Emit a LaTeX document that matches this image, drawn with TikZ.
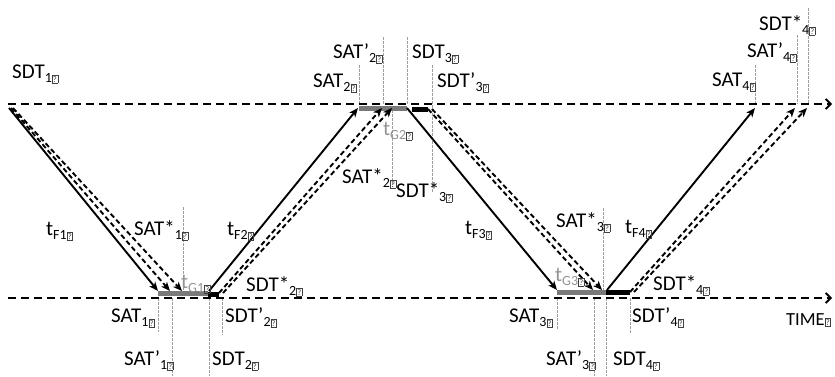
\documentclass[tikz,border=0pt]{standalone}
\usepackage{fontspec}
\setmainfont{Carlito}
\usetikzlibrary{arrows.meta}
% small boxed question mark standing for a missing glyph
\newcommand\qbox{{\fboxsep=0.6pt\fboxrule=0.5pt\color{black!75}\fbox{\fontsize{8.5}{8.5}\selectfont ?}}}
% lowered index followed by the missing-glyph box
\newcommand\idx[1]{\raisebox{-4pt}{\fontsize{14}{14}\selectfont #1\qbox}}
\begin{document}
\begin{tikzpicture}[x=1pt,y=-1pt,
  axis/.style={line width=2.4pt, dash pattern=on 8pt off 5pt,
    -{Straight Barb[length=5pt,width=10pt,line width=1.8pt]}},
  guide/.style={draw=gray!75, line width=0.7pt, dash pattern=on 2.5pt off 1.5pt},
  gate/.style={draw=gray!95!black, line width=5pt},
  hold/.style={draw=black, line width=5pt},
  flight/.style={line width=1.9pt, -{Stealth[length=9pt,width=7.5pt,inset=2.5pt]}},
  flightalt/.style={flight, dash pattern=on 5pt off 3pt},
  lab/.style={anchor=base west, inner sep=0pt, font=\fontsize{21}{25}\selectfont},
  glab/.style={lab, text=gray!85}]
\useasboundingbox (0,0) rectangle (835,376);

% vertical time markers
\draw[guide] (183,207) -- (183,290);
\draw[guide] (158,298) -- (158,332);
\draw[guide] (172,298) -- (172,376);
\draw[guide] (209,298) -- (209,376);
\draw[guide] (222,298) -- (222,335);
\draw[guide] (359,65) -- (359,104);
\draw[guide] (383,37) -- (383,104);
\draw[guide] (407,37) -- (407,104);
\draw[guide] (432,65) -- (432,192);
\draw[guide] (392,110) -- (392,187);
\draw[guide] (557,298) -- (557,330);
\draw[guide] (594,298) -- (594,376);
\draw[guide] (606,298) -- (606,376);
\draw[guide] (603,208) -- (603,292);
\draw[guide] (630,298) -- (630,333);
\draw[guide] (755,65) -- (755,104);
\draw[guide] (797,35) -- (797,104);
\draw[guide] (808,8) -- (808,104);

% the two time axes
\coordinate (top0) at (8,104);
\coordinate (top1) at (832,104);
\coordinate (bot0) at (8,298);
\coordinate (bot1) at (832,298);
\draw[axis] (top0) -- (top1);
\draw[axis] (bot0) -- (bot1);

% ground times (grey) and extra holding (black)
\draw[gate] (158,293.5) -- (208,293.5);
\draw[hold] (208,294) -- (219,294);
\draw[gate] (359,108.5) -- (407,108.5);
\draw[hold] (412,109) -- (428,109);
\draw[gate] (557,292.5) -- (606,292.5);
\draw[hold] (606,292.5) -- (630,292.5);

% departure and arrival points of each flight
\coordinate (d1) at (9,108);    \coordinate (a1) at (158,291);
\coordinate (d1p) at (11,108);  \coordinate (a1p) at (170,291);
\coordinate (d1s) at (13,108);  \coordinate (a1s) at (182,291);
\coordinate (d2) at (209,291);  \coordinate (a2) at (358,108);
\coordinate (d2p) at (219,293); \coordinate (a2p) at (382,108);
\coordinate (d2s) at (223,293); \coordinate (a2s) at (392,108);
\coordinate (d3) at (407,108);  \coordinate (a3) at (557,290);
\coordinate (d3p) at (428,109); \coordinate (a3p) at (593,290);
\coordinate (d3s) at (432,109); \coordinate (a3s) at (602,290);
\coordinate (d4) at (607,290);  \coordinate (a4) at (755,108);
\coordinate (d4p) at (630,292); \coordinate (a4p) at (795,108);
\coordinate (d4s) at (634,292); \coordinate (a4s) at (807,108);

\draw[flight] (d1) -- (a1);
\draw[flightalt] (d1p) -- (a1p);
\draw[flightalt] (d1s) -- (a1s);
\draw[flight] (d2) -- (a2);
\draw[flightalt] (d2p) -- (a2p);
\draw[flightalt] (d2s) -- (a2s);
\draw[flight] (d3) -- (a3);
\draw[flightalt] (d3p) -- (a3p);
\draw[flightalt] (d3s) -- (a3s);
\draw[flight] (d4) -- (a4);
\draw[flightalt] (d4p) -- (a4p);
\draw[flightalt] (d4s) -- (a4s);

% labels
\node[lab] (sdt1) at (12,78) {SDT\idx{1}};
\node[lab] (tf1) at (46,235) {t\idx{F1}};
\node[lab] (sats1) at (134,235) {SAT*\idx{1}};
\node[glab] (tg1) at (181,288) {t\idx{G1}};
\node[lab] (tf2) at (227,235) {t\idx{F2}};
\node[lab] (sdts2) at (246,291) {SDT*\idx{2}};
\node[lab] (sat1) at (111,322) {SAT\idx{1}};
\node[lab] (sdtp2) at (225,322) {SDT’\idx{2}};
\node[lab] (satp1) at (124,365) {SAT’\idx{1}};
\node[lab] (sdt2) at (212,365) {SDT\idx{2}};

\node[lab] (satp2) at (333,58) {SAT’\idx{2}};
\node[lab] (sdt3) at (412,58) {SDT\idx{3}};
\node[lab] (sat2) at (313,87) {SAT\idx{2}};
\node[lab] (sdtp3) at (437,87) {SDT’\idx{3}};
\node[glab] (tg2) at (383,135) {t\idx{G2}};
\node[lab] (sats2) at (342,183) {SAT*\idx{2}};
\node[lab] (sdts3) at (396,197) {SDT*\idx{3}};

\node[lab] (tf3) at (465,234) {t\idx{F3}};
\node[lab] (sats3) at (556,227) {SAT*\idx{3}};
\node[lab] (tf4) at (625,233) {t\idx{F4}};
\node[glab] (tg3) at (555,281) {t\idx{G3}};
\node[lab] (sdts4) at (653,290) {SDT*\idx{4}};
\node[lab] (sat3) at (509,322) {SAT\idx{3}};
\node[lab] (sdtp4) at (632,322) {SDT’\idx{4}};
\node[lab] (satp3) at (546,365) {SAT’\idx{3}};
\node[lab] (sdt4) at (613,365) {SDT\idx{4}};

\node[lab] (sdts4t) at (759,30) {SDT*\idx{4}};
\node[lab] (satp4) at (747,57) {SAT’\idx{4}};
\node[lab] (sat4) at (712,86) {SAT\idx{4}};
\node[lab, font=\fontsize{18.5}{22}\selectfont] (time) at (786,325) {TIME\qbox};
\end{tikzpicture}
\end{document}
